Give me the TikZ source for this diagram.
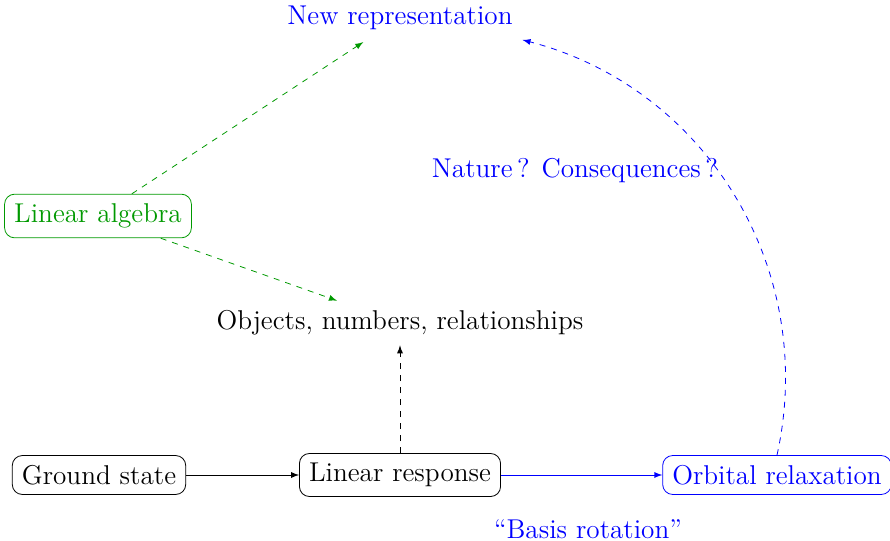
\documentclass[tikz,border=0pt]{standalone}
\usepackage{xcolor}
\definecolor{leaf}{HTML}{009900}
\usepackage{tikz}
\usetikzlibrary{arrows.meta, positioning}

\begin{document}
\begin{tikzpicture}[
  x=0.5pt, y=-0.5pt,
  every node/.style={font=\fontsize{13.6}{16}\selectfont, inner sep=4.8pt},
  box/.style={rectangle, draw, rounded corners=5pt},
  link/.style={-latex},
  hint/.style={-latex, dashed}
]
\useasboundingbox (0,0) rectangle (890,541);

% Main chain
\node[box] (gs) at (99,475) {Ground state};
\node[box] (lr) at (400,475) {Linear response};
\node[box, blue] (orb) at (777,475) {Orbital relaxation};
\node[blue] (rot) at (588,529) {``Basis rotation''};

% Upper part
\node (obj) at (400,323) {Objects, numbers, relationships};
\node[box, leaf] (la) at (98,216) {Linear algebra};
\node[blue] (newrep) at (400,18) {New representation};
\node[blue] (nat) at (575,171) {Nature\,? Consequences\,?};

% Arrows
\draw[link] (gs) -- (lr);
\draw[link, blue] (lr) -- (orb);
\draw[hint] (lr) -- (obj);
\draw[hint, leaf] (la) -- (obj);
\draw[hint, leaf, shorten >=2pt] (la) -- (newrep);
\draw[hint, blue] (orb.north) to[bend right=44] (newrep.south east);

\end{tikzpicture}
\end{document}
